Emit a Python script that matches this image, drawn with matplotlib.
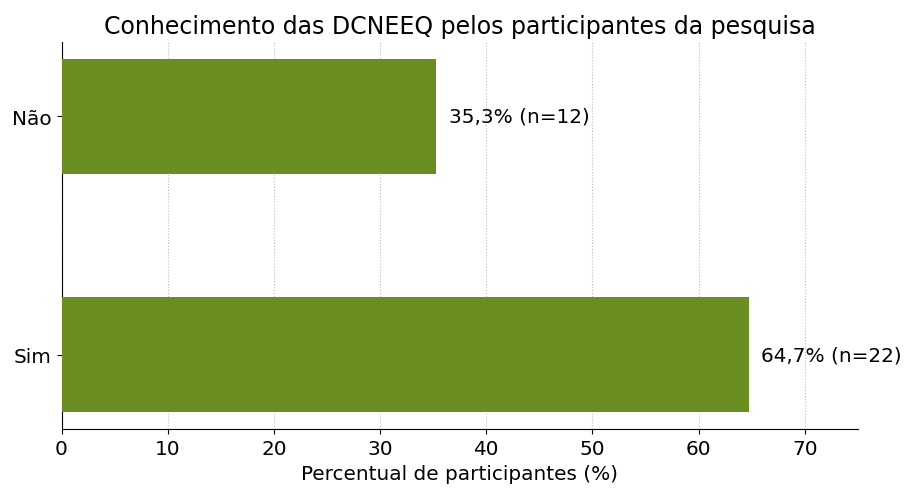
import matplotlib.pyplot as plt

categorias = ['Sim', 'Não']
percentuais = [64.7, 35.3]
contagens = [22, 12]

fig, ax = plt.subplots(figsize=(9.05, 4.89), dpi=100)

barras = ax.barh(categorias, percentuais, height=0.48, color='#6B8E23', zorder=3)

for i in range(len(categorias)):
    rotulo = f"{percentuais[i]:.1f}".replace('.', ',') + f"% (n={contagens[i]})"
    ax.text(percentuais[i] + 1.2, i, rotulo, va='center', ha='left', fontsize=14.4)

ax.set_xlim(0, 75)
ax.set_xlabel('Percentual de participantes (%)', fontsize=14.4)
ax.set_title('Conhecimento das DCNEEQ pelos participantes da pesquisa', fontsize=17)
ax.tick_params(axis='both', labelsize=14.4)
ax.grid(True, axis='x', linestyle=':', color='#bbbbbb', zorder=0)
ax.spines['top'].set_visible(False)
ax.spines['right'].set_visible(False)

plt.subplots_adjust(left=0.068, right=0.948, top=0.913, bottom=0.12)
plt.savefig('out.png', format='png')
plt.close()
